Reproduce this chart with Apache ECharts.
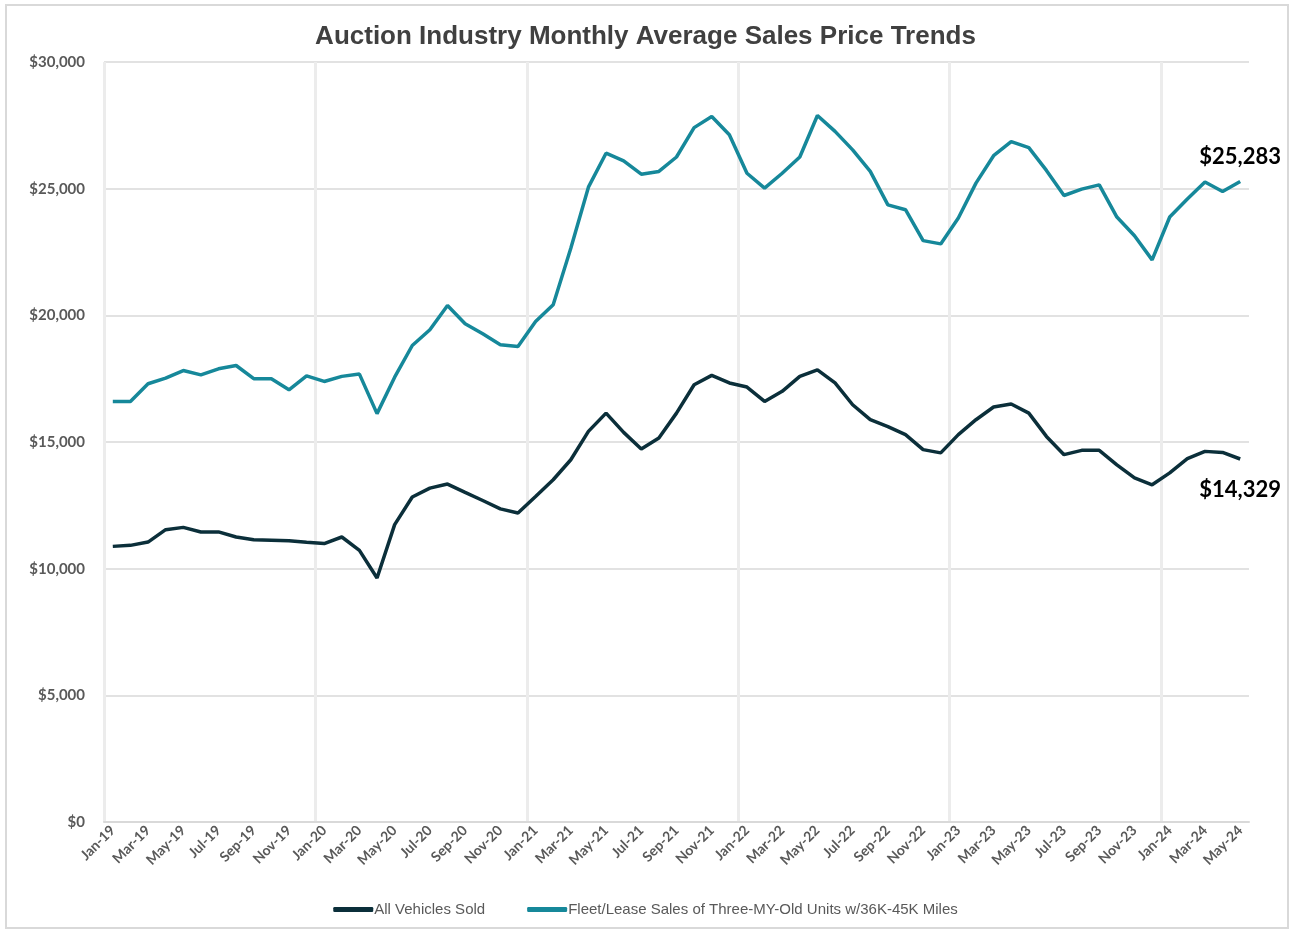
<!DOCTYPE html>
<html>
<head>
<meta charset="utf-8">
<script src="https://cdn.jsdelivr.net/npm/echarts@6/dist/echarts.min.js"></script>
<style>
  html, body { margin: 0; padding: 0; background: #fff; }
  #main { width: 1291px; height: 931px; }
</style>
</head>
<body>
<div id="main"></div>
<script>
// 月份
const months = [
  'Jan-19','Feb-19','Mar-19','Apr-19','May-19','Jun-19','Jul-19','Aug-19','Sep-19','Oct-19','Nov-19','Dec-19',
  'Jan-20','Feb-20','Mar-20','Apr-20','May-20','Jun-20','Jul-20','Aug-20','Sep-20','Oct-20','Nov-20','Dec-20',
  'Jan-21','Feb-21','Mar-21','Apr-21','May-21','Jun-21','Jul-21','Aug-21','Sep-21','Oct-21','Nov-21','Dec-21',
  'Jan-22','Feb-22','Mar-22','Apr-22','May-22','Jun-22','Jul-22','Aug-22','Sep-22','Oct-22','Nov-22','Dec-22',
  'Jan-23','Feb-23','Mar-23','Apr-23','May-23','Jun-23','Jul-23','Aug-23','Sep-23','Oct-23','Nov-23','Dec-23',
  'Jan-24','Feb-24','Mar-24','Apr-24','May-24'
]
// All Vehicles Sold
const allVehicles = [
  10880,10920,11050,11540,11630,11450,11450,11250,11140,11120,11100,11040,
  10990,11250,10720,9630,11740,12830,13180,13340,13010,12690,12360,12200,
  12850,13510,14300,15420,16140,15380,14720,15160,16140,17260,17630,17330,
  17170,16600,17000,17590,17850,17330,16470,15880,15610,15290,14700,14570,
  15290,15880,16380,16500,16140,15220,14500,14670,14670,14100,13580,13310,
  13780,14340,14630,14590,14329
]
// Fleet/Lease 三年车
const fleetLease = [
  16600,16600,17300,17520,17820,17650,17890,18020,17500,17500,17060,17610,
  17390,17590,17680,16120,17560,18810,19430,20390,19670,19270,18840,18770,
  19760,20420,22650,25060,26400,26100,25570,25680,26250,27410,27850,27130,
  25610,25020,25610,26250,27890,27260,26530,25680,24360,24170,22950,22820,
  23840,25220,26300,26860,26620,25720,24730,24980,25150,23880,23140,22190,
  23880,24590,25260,24890,25283
]
const yTicks = [0, 5000, 10000, 15000, 20000, 25000, 30000]

let darkColor = '#0b2f3a'
let tealColor = '#16889a'
let labelFont = 'Lato, "Open Sans", sans-serif'
let vGrid = '#ececec'

const money = v => '$' + v.toLocaleString('en-US')

// 只在最后一个点显示标签
const withEndLabel = (arr, pos, dist) => arr.map((v, i) => i === arr.length - 1 ? {
  value: v,
  label: {
    show: true, position: pos, distance: dist,
    formatter: p => money(p.value),
    color: '#000', fontSize: 22, fontWeight: 'bold', fontFamily: labelFont
  }
} : v)

let myChart = echarts.init(document.getElementById('main'))
let option = {
  animation: false,
  backgroundColor: '#fff',
  graphic: [{
    type: 'rect',
    shape: { x: 6, y: 5, width: 1282, height: 923 },
    style: { fill: 'none', stroke: '#d9d9d9', lineWidth: 2 },
    silent: true
  }],
  title: {
    text: 'Auction Industry Monthly Average Sales Price Trends',
    left: 'center',
    top: 19,
    textStyle: { fontFamily: '"Liberation Sans", Arial, sans-serif', fontSize: 26, fontWeight: 'bold', color: '#404040' }
  },
  legend: {
    bottom: 9,
    left: 'center',
    icon: 'roundRect',
    itemWidth: 40,
    itemHeight: 5,
    itemGap: 42,
    textStyle: { fontFamily: '"Liberation Sans Narrow", "Liberation Sans", Arial, sans-serif', fontSize: 15, color: '#595959', padding: [0, 0, 0, -4] }
  },
  grid: { left: 104, right: 42, top: 62, bottom: 109 },
  xAxis: {
    type: 'category',
    data: months,
    boundaryGap: true,
    axisLine: { show: true, lineStyle: { color: '#d9d9d9', width: 2 } },
    axisTick: { show: false },
    axisLabel: {
      interval: 1,
      rotate: 45,
      margin: 6,
      color: '#595959',
      fontSize: 14,
      fontWeight: 'bold',
      fontFamily: labelFont
    },
    splitLine: {
      show: true,
      interval: (index) => index % 12 === 0,
      // 最后一条边界线不画
      lineStyle: { color: [vGrid, vGrid, vGrid, vGrid, vGrid, vGrid, 'rgba(0,0,0,0)'], width: 3 }
    }
  },
  yAxis: {
    type: 'value',
    min: yTicks[0],
    max: yTicks[yTicks.length - 1],
    interval: yTicks[1] - yTicks[0],
    axisLine: { show: false },
    axisTick: { show: false },
    axisLabel: {
      margin: 19,
      color: '#595959',
      fontSize: 15,
      fontWeight: 'bold',
      fontFamily: labelFont,
      formatter: v => money(v)
    },
    splitLine: { lineStyle: { color: '#d9d9d9', width: 1.5 } }
  },
  series: [{
    name: 'All Vehicles Sold',
    type: 'line',
    symbol: 'circle',
    symbolSize: 0,
    showSymbol: true,
    lineStyle: { width: 3.5, color: darkColor },
    itemStyle: { color: darkColor },
    data: withEndLabel(allVehicles, 'bottom', 20)
  }, {
    name: 'Fleet/Lease Sales of Three-MY-Old Units w/36K-45K Miles',
    type: 'line',
    symbol: 'circle',
    symbolSize: 0,
    showSymbol: true,
    lineStyle: { width: 3.5, color: tealColor },
    itemStyle: { color: tealColor },
    data: withEndLabel(fleetLease, 'top', 14)
  }]
}
myChart.setOption(option, true)
</script>
</body>
</html>
